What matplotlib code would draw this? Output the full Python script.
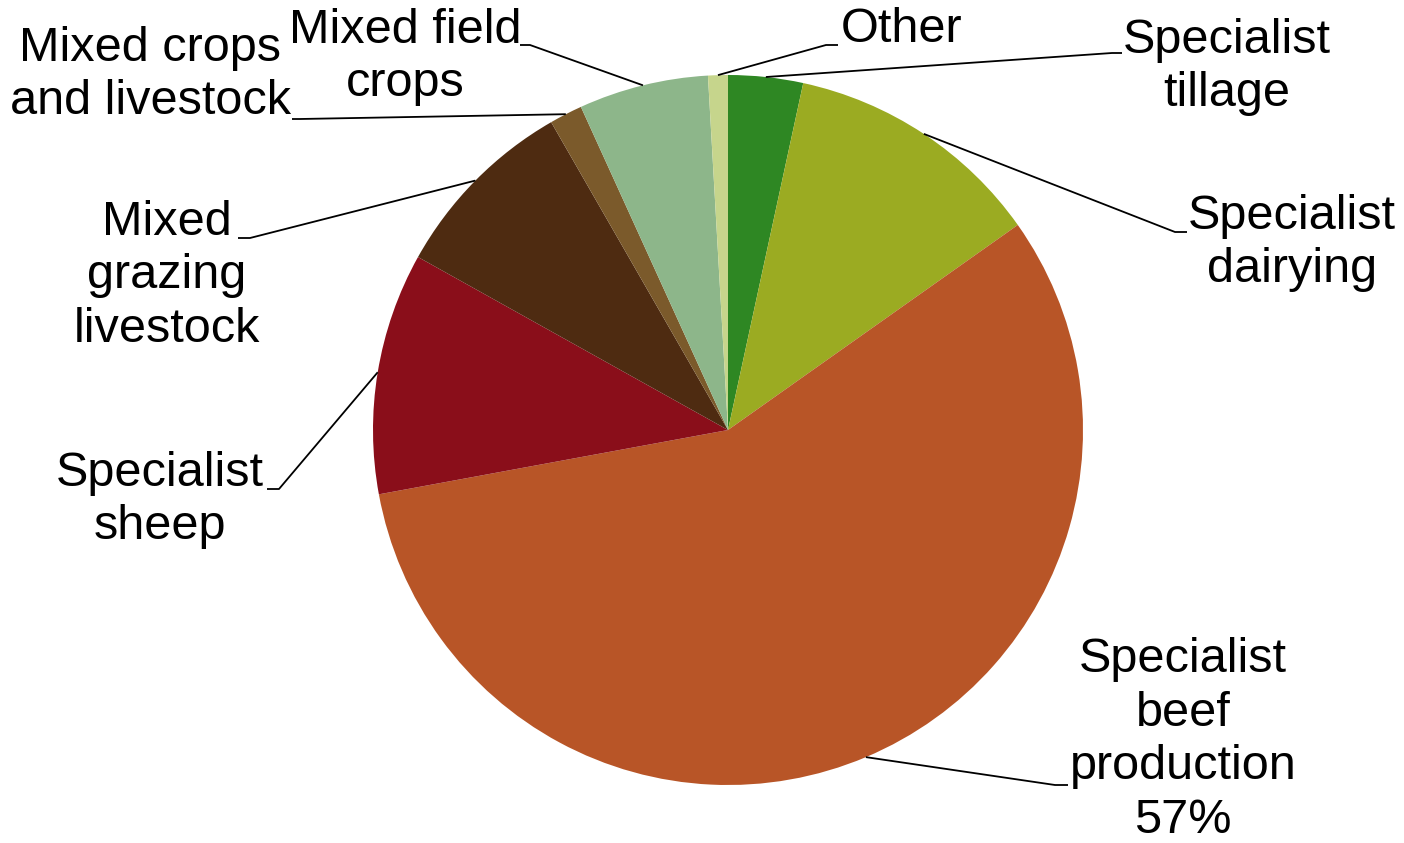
import numpy as np
import matplotlib.pyplot as plt

plt.rcParams['font.family'] = ['Liberation Sans', 'DejaVu Sans']

# farm type shares (%), clockwise from 12 o'clock
labels = ["Specialist\ntillage", "Specialist\ndairying", "Specialist\nbeef\nproduction\n57%",
          "Specialist\nsheep", "Mixed\ngrazing\nlivestock", "Mixed crops\nand livestock",
          "Mixed field\ncrops", "Other"]
shares = [3.4, 11.8, 56.9, 11.0, 8.6, 1.5, 5.9, 0.9]
colors = ["#2e8723", "#9bab22", "#b85527", "#8a0e1a", "#4e2b11", "#7b5a2b", "#8db68a", "#c6d58c"]

# layout (pixel coords, y down): leader elbow, leader end, text centre
elbows = [(1112, 53), (1175, 232), (1055, 785), (279, 489), (250, 238), (300, 119), (530, 45), (826, 45)]
ends = [(1122, 53), (1187, 232), (1068, 785), (267, 489), (238, 238), (292, 119), (520, 45), (838, 45)]
text_pos = [(1227, 67), (1292, 243), (1183, 740), (160, 500), (167, 276), (150, 75), (405, 57), (902, 30)]

W, H = 1404, 843
cx, cy, r = 728, 430, 355

fig = plt.figure(figsize=(W / 100, H / 100), dpi=100)
ax = fig.add_axes([0, 0, 1, 1])

ax.pie(shares, colors=colors, startangle=90, counterclock=False,
       center=(cx, H - cy), radius=r, wedgeprops=dict(linewidth=0))

ax.set_xlim(0, W)
ax.set_ylim(0, H)
ax.set_aspect("equal")
ax.axis("off")

cum = np.cumsum(shares) - np.array(shares) / 2
for i, lab in enumerate(labels):
    ang = np.deg2rad(cum[i] / sum(shares) * 360)
    px = cx + r * np.sin(ang)
    py = cy - r * np.cos(ang)
    ex, ey = elbows[i]
    nx, ny = ends[i]
    ax.plot([px, ex, nx], [H - py, H - ey, H - ny], color="black", lw=1.3,
            solid_capstyle="butt")
    tx, ty = text_pos[i]
    ax.text(tx, H - ty, lab, ha="center", va="center", fontsize=35,
            linespacing=1.24, color="black")

fig.savefig("out.png", dpi=100)
